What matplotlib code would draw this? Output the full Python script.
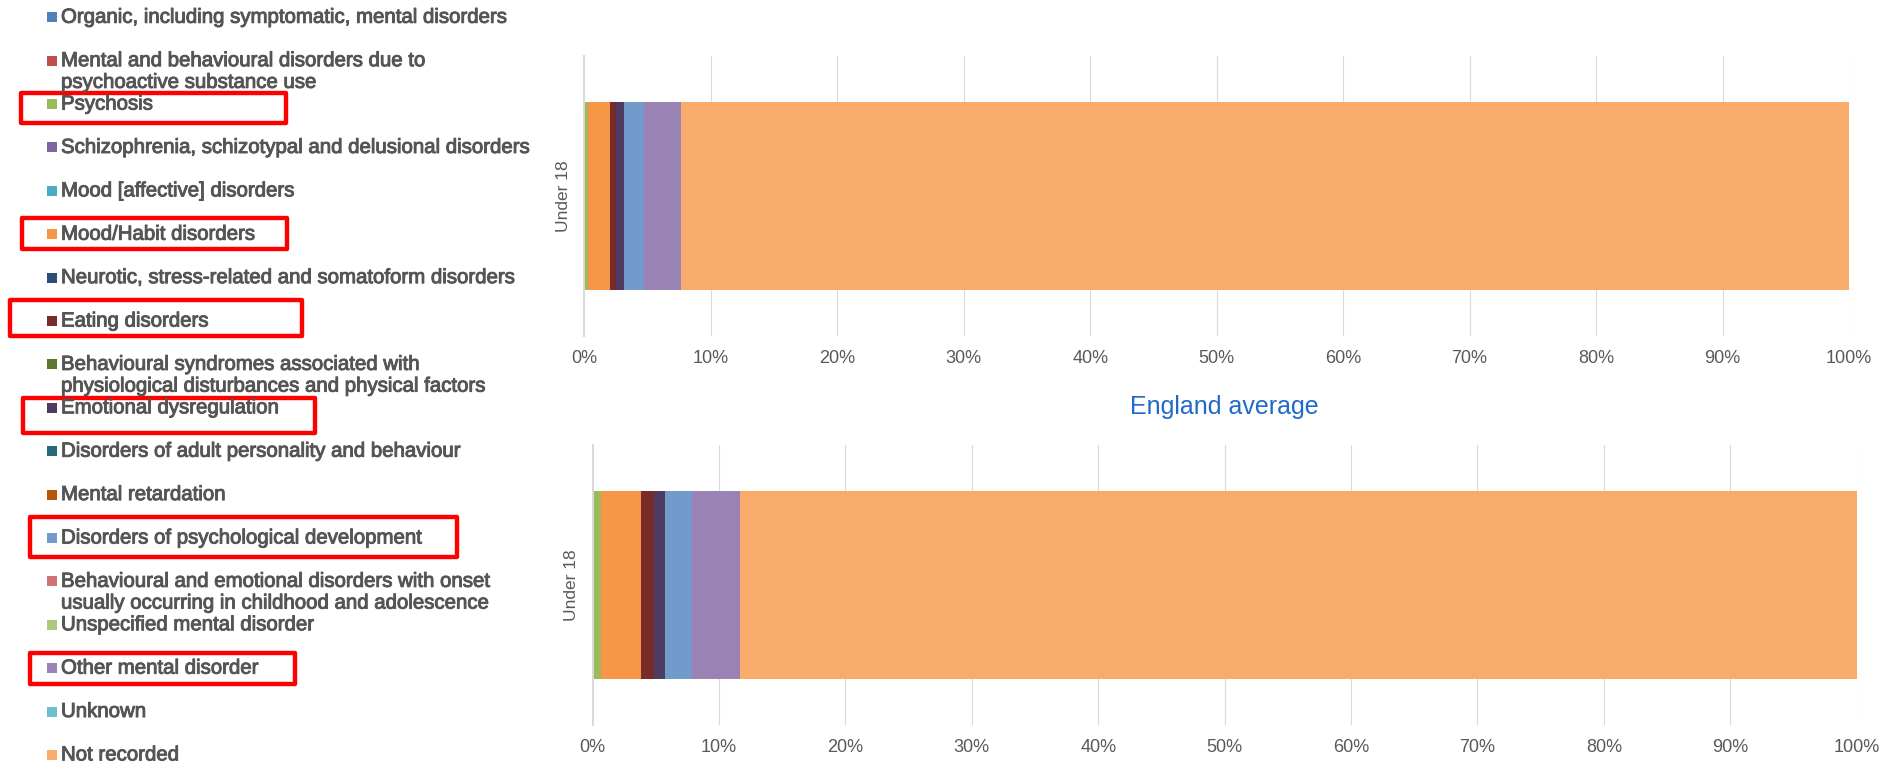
import matplotlib.pyplot as plt
import matplotlib.patheffects as pe
from matplotlib.patches import Rectangle

plt.rcParams['font.family'] = ['Liberation Sans', 'DejaVu Sans']

# Categories in stacking order, with their colours
categories = [
    "Organic, including symptomatic, mental disorders",
    "Mental and behavioural disorders due to\npsychoactive substance use",
    "Psychosis",
    "Schizophrenia, schizotypal and delusional disorders",
    "Mood [affective] disorders",
    "Mood/Habit disorders",
    "Neurotic, stress-related and somatoform disorders",
    "Eating disorders",
    "Behavioural syndromes associated with\nphysiological disturbances and physical factors",
    "Emotional dysregulation",
    "Disorders of adult personality and behaviour",
    "Mental retardation",
    "Disorders of psychological development",
    "Behavioural and emotional disorders with onset\nusually occurring in childhood and adolescence",
    "Unspecified mental disorder",
    "Other mental disorder",
    "Unknown",
    "Not recorded",
]
colors = [
    "#4F81BD", "#C0504D", "#9BBB59", "#8064A2", "#4BACC6", "#F79646",
    "#2C4D75", "#772C2A", "#5F7530", "#4D3B62", "#276A7C", "#B65708",
    "#729ACA", "#CD7371", "#AFC97A", "#9983B5", "#6FBDD1", "#F9AB6B",
]

age_groups = ["Under 18"]

# Percentage share of each category (same order as categories)
local_share = [0, 0, 0.28, 0, 0, 1.72, 0, 0.47, 0, 0.65, 0, 0, 1.58, 0, 0, 2.93, 0, 92.37]
england_share = [0, 0, 0.66, 0, 0, 3.17, 0, 1.03, 0, 0.87, 0, 0, 2.13, 0, 0, 3.80, 0, 88.34]

x_ticks = list(range(0, 101, 10))

# outline boxes around some legend rows, in pixels: x0, y0, x1, y1 (from top-left)
highlight_boxes = [(19, 91, 288, 125), (20, 216, 289, 251), (8, 298, 304, 338),
                   (21, 396, 317, 435), (28, 515, 459, 559), (28, 651, 297, 686)]

W, H = 1893, 765
fig = plt.figure(figsize=(W / 100, H / 100), dpi=100)


def px_axes(x0, y0, x1, y1):
    return fig.add_axes([x0 / W, 1 - y1 / H, (x1 - x0) / W, (y1 - y0) / H])


def stacked_bar(ax, shares):
    left = 0
    for share, col in zip(shares, colors):
        ax.barh(0, share, left=left, height=0.67, color=col, linewidth=0)
        left += share
    ax.set_xlim(0, 100)
    ax.set_ylim(-0.5, 0.5)
    ax.set_xticks(x_ticks)
    ax.set_xticklabels([f"{t}%" for t in x_ticks])
    ax.set_yticks([0])
    ax.set_yticklabels(age_groups, rotation=90, va='center')
    ax.tick_params(length=0, pad=10, labelsize=13, labelcolor='#595959')
    ax.tick_params(axis='y', labelsize=12.5)
    ax.set_axisbelow(True)
    ax.xaxis.grid(True, color='#D9D9D9', linewidth=0.8)
    for side in ['top', 'right', 'bottom']:
        ax.spines[side].set_visible(False)
    ax.spines['left'].set_color('#D9D9D9')
    ax.spines['left'].set_linewidth(1.4)


ax_top = px_axes(584.4, 56, 1849, 336)
stacked_bar(ax_top, local_share)

ax_bot = px_axes(592.6, 445, 1856.7, 725)
stacked_bar(ax_bot, england_share)
ax_bot.set_title("England average", color='#1F6BC7', fontsize=18, pad=22)

# Legend drawn by hand so two-line labels keep the row spacing
ax_leg = fig.add_axes([0, 0, 0.3, 1])
ax_leg.set_xlim(0, 0.3 * W)
ax_leg.set_ylim(H, 0)
ax_leg.axis('off')

heavy = [pe.withStroke(linewidth=0.7, foreground='#555555')]
row0, row_step, line_step = 17.3, 43.39, 21.7
for i, (label, col) in enumerate(zip(categories, colors)):
    y = row0 + row_step * i
    ax_leg.scatter([51.5], [y], marker='s', s=52, color=col, linewidths=0)
    for j, line in enumerate(label.split("\n")):
        ax_leg.text(61, y + j * line_step, line, fontsize=14.7, color='#555555',
                    va='center', ha='left', path_effects=heavy)

lw_px = 4.4
for x0, y0, x1, y1 in highlight_boxes:
    ax_leg.add_patch(Rectangle((x0 + lw_px / 2, y0 + lw_px / 2),
                               x1 - x0 - lw_px, y1 - y0 - lw_px,
                               fill=False, edgecolor='#FF0000', linewidth=lw_px * 0.72,
                               joinstyle='round', clip_on=False))

fig.savefig("out.png", dpi=100)
